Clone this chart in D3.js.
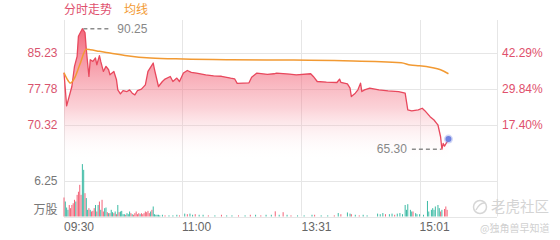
<!DOCTYPE html>
<html>
<head>
<meta charset="utf-8">
<script src="https://cdn.jsdelivr.net/npm/d3@7/dist/d3.min.js"></script>
<style>
  body { margin: 0; background: #fff; }
  svg { display: block; font-family: "Liberation Sans", Arial, "Noto Sans CJK SC", sans-serif; }
  .cjk { font-family: "Noto Sans CJK SC", sans-serif; }
</style>
</head>
<body>
<div id="chart"></div>
<script>
// minute index (0 = 09:30, HK session, 330 minutes) and price
const priceMinutes = [0, 2, 6, 8, 10, 11, 14, 16, 17, 19, 20, 22, 24, 25, 27, 28, 30, 32, 34, 35,
  38, 40, 41, 43, 45, 48, 50, 52, 54, 56, 59, 62, 64, 68, 69, 72, 75, 77, 81, 83,
  86, 88, 91, 94, 97, 101, 108, 114, 120, 127, 130, 132, 141, 143, 147, 155, 160, 162, 172, 177,
  188, 190, 193, 200, 208, 210, 211, 216, 218, 219, 222, 224, 226, 227, 229, 233, 240, 247, 255, 260,
  262, 265, 270, 273, 275, 279, 282, 284, 285, 287, 288, 289, 290, 292, 293]
const priceValues = [81.14, 74.27, 78.29, 82.45, 84.53, 88.69, 90.25, 89.46, 85.92, 80.37, 83.84, 83.49, 84.19, 82.80, 84.67, 83.49, 81.41, 82.45, 81.76, 80.72,
  81.41, 79.68, 77.60, 76.77, 77.45, 77.25, 77.60, 76.91, 76.56, 77.45, 77.75, 78.64, 81.41, 83.15, 81.76, 78.29, 79.33, 79.83, 80.37, 79.33,
  80.03, 79.33, 81.07, 81.61, 81.20, 81.07, 80.72, 80.51, 80.41, 80.03, 79.89, 78.95, 79.06, 80.20, 81.07, 80.82, 80.93, 81.07, 80.87, 80.72,
  80.93, 80.37, 79.33, 79.20, 79.12, 79.83, 79.16, 78.85, 77.95, 76.21, 76.91, 77.60, 78.99, 77.25, 77.60, 77.95, 77.60, 77.39, 77.25, 76.91,
  73.44, 73.23, 73.44, 73.79, 73.29, 72.05, 71.36, 70.67, 70.32, 67.89, 65.30, 66.51, 65.95, 66.85, 67.41]

const avgMinutes = [0, 2, 5, 8, 12, 17, 20, 27, 35, 48, 66, 91, 127, 165, 213, 257, 264, 271, 280, 287, 293]
const avgValues = [81.14, 80.03, 79.00, 80.03, 82.80, 86.00, 85.92, 85.57, 85.23, 84.67, 84.19, 83.98, 83.84, 83.78, 83.63, 83.22, 82.74, 82.59, 82.24, 81.76, 80.93]

// volume (万股): minute, amount, 1 = up / 0 = down
const volMinutes = [0, 1, 2, 3, 4, 5, 6, 7, 8, 9, 10, 11, 12, 13, 14, 15, 16, 17, 18, 19,
  20, 21, 22, 23, 24, 25, 26, 27, 28, 29, 30, 31, 32, 33, 34, 35, 36, 37, 38, 39,
  40, 41, 42, 43, 44, 45, 46, 47, 48, 49, 50, 51, 52, 53, 54, 55, 56, 57, 58, 59,
  60, 61, 62, 63, 64, 65, 66, 67, 68, 69, 70, 71, 72,
  73, 75, 77, 80, 83, 86, 88, 92, 94, 96, 98, 100, 103, 106, 110, 115, 120, 124, 128, 133,
  138, 142, 146, 150, 154, 158, 161, 164, 167, 170, 173, 178, 183, 189, 191, 196, 201, 206, 209, 211,
  216, 218, 219, 222, 225, 228, 231, 239, 241, 243, 245, 248, 250, 252, 254, 256, 258, 260, 261, 262,
  264, 265, 266, 268, 269, 271, 274, 277, 278, 280, 281, 282, 283, 285, 286, 287, 288, 290, 291, 292]
const volValues = [3.3, 2.6, 1.56, 1.16, 2.0, 1.45, 2.0, 2.3, 2.9, 2.6, 3.76, 4.3, 5.5, 3.76, 9.1, 8.1, 4.05, 3.2, 1.16, 1.45,
  1.16, 0.87, 0.98, 1.45, 2.0, 0.87, 2.0, 2.6, 1.16, 2.9, 0.87, 1.45, 1.56, 0.75, 0.58, 0.58, 1.16, 0.75, 0.58, 0.87,
  0.4, 2.0, 0.75, 0.87, 0.98, 0.4, 0.4, 0.3, 0.58, 0.4, 0.87, 0.58, 0.4, 0.3, 0.58, 0.87, 0.4, 0.58, 0.4, 0.58,
  0.4, 0.58, 0.87, 0.75, 0.98, 0.58, 0.87, 1.16, 1.74, 0.4, 0.3, 0.3, 0.3,
  0.2, 0.3, 0.2, 0.2, 0.2, 0.3, 0.2, 0.5, 0.4, 0.5, 0.3, 0.4, 0.3, 0.3, 0.2, 0.2, 0.3, 0.2, 0.2, 0.2,
  0.2, 0.3, 0.3, 0.2, 0.3, 0.3, 0.9, 0.3, 0.75, 0.3, 0.2, 0.2, 0.2, 0.3, 0.3, 0.2, 0.2, 0.2, 0.6, 0.4,
  0.7, 0.5, 0.4, 0.3, 0.2, 0.3, 0.2, 0.5, 0.4, 0.6, 0.4, 0.4, 0.5, 0.3, 0.5, 0.6, 0.4, 2.0, 1.16, 2.14,
  1.16, 0.87, 0.87, 0.58, 0.4, 0.4, 0.3, 2.7, 0.87, 1.16, 1.45, 1.16, 1.74, 2.0, 1.45, 0.87, 1.16, 1.3, 1.74, 1.16]
const volUp = [1, 0, 0, 0, 1, 1, 1, 1, 1, 0, 1, 1, 1, 1, 0, 0, 1, 0, 0, 1,
  0, 1, 1, 1, 0, 1, 0, 1, 0, 1, 1, 0, 0, 1, 0, 1, 0, 0, 1, 0,
  1, 0, 1, 0, 0, 0, 0, 1, 0, 0, 0, 1, 0, 1, 1, 1, 1, 1, 0, 1,
  1, 1, 1, 1, 1, 1, 0, 1, 0, 0, 0, 0, 0,
  0, 0, 1, 0, 0, 0, 1, 0, 1, 0, 0, 1, 0, 0, 1, 0, 1, 0, 0, 1,
  0, 1, 0, 1, 0, 0, 1, 0, 1, 0, 1, 0, 0, 0, 1, 0, 0, 1, 0, 1,
  0, 0, 1, 0, 1, 0, 0, 0, 0, 0, 1, 0, 0, 1, 0, 0, 0, 0, 0, 0,
  0, 0, 1, 0, 0, 0, 0, 0, 0, 0, 0, 0, 0, 0, 0, 1, 0, 1, 1, 1]

const timeTicks = [0, 90, 181, 271]
const timeLabels = ["09:30", "11:00", "13:31", "15:01"]
const priceTicks = [70.32, 77.78, 85.23]
const pctLabels = ["17.40%", "29.84%", "42.29%"]
const volTicks = [6.25]

const red = "#e8485d", green = "#3dbba5", orange = "#f29a33", grid = "#e6e6e6"

const svg = d3.select("#chart").append("svg")
  .attr("width", 560).attr("height", 240)

const x = d3.scaleLinear().domain([0, 330]).range([64, 497])
const y = d3.scaleLinear().domain([62.87, 92.68]).range([161, 17])
const yv = d3.scaleLinear().domain([0, 12.5]).range([216.5, 144.5])

// grid
svg.append("g").selectAll("line").data(timeTicks.concat([330])).join("line")
  .attr("x1", d => Math.round(x(d)) + 0.5).attr("x2", d => Math.round(x(d)) + 0.5)
  .attr("y1", 20).attr("y2", yv(0))
  .attr("stroke", grid)
svg.append("g").selectAll("line").data(priceTicks).join("line")
  .attr("x1", x(0)).attr("x2", x(330))
  .attr("y1", d => Math.round(y(d)) + 0.5).attr("y2", d => Math.round(y(d)) + 0.5)
  .attr("stroke", grid)
svg.append("g").selectAll("line").data(volTicks.concat([0])).join("line")
  .attr("x1", x(0)).attr("x2", x(330))
  .attr("y1", d => Math.round(yv(d)) + 0.5).attr("y2", d => Math.round(yv(d)) + 0.5)
  .attr("stroke", grid)

// price area
const price = priceMinutes.map((t, i) => ({ t: t, v: priceValues[i] }))
const avg = avgMinutes.map((t, i) => ({ t: t, v: avgValues[i] }))

const grad = svg.append("defs").append("linearGradient")
  .attr("id", "fillGrad").attr("gradientUnits", "userSpaceOnUse")
  .attr("x1", 0).attr("x2", 0).attr("y1", y(90.25)).attr("y2", 161)
grad.append("stop").attr("offset", 0).attr("stop-color", "#f04d64").attr("stop-opacity", 0.85)
grad.append("stop").attr("offset", 0.6).attr("stop-color", "#f47e8e").attr("stop-opacity", 0.35)
grad.append("stop").attr("offset", 1).attr("stop-color", "#ffffff").attr("stop-opacity", 0)

svg.append("path").datum(price)
  .attr("fill", "url(#fillGrad)")
  .attr("d", d3.area().x(d => x(d.t)).y0(161).y1(d => y(d.v)))

svg.append("path").datum(price)
  .attr("fill", "none").attr("stroke", red).attr("stroke-width", 1.3)
  .attr("stroke-linejoin", "round")
  .attr("d", d3.line().x(d => x(d.t)).y(d => y(d.v)))

svg.append("path").datum(avg)
  .attr("fill", "none").attr("stroke", orange).attr("stroke-width", 1.5)
  .attr("d", d3.line().x(d => x(d.t)).y(d => y(d.v)).curve(d3.curveMonotoneX))

// volume bars
svg.append("g").selectAll("rect").data(volMinutes).join("rect")
  .attr("x", d => x(d) - 0.5).attr("width", 1)
  .attr("y", (d, i) => yv(volValues[i])).attr("height", (d, i) => yv(0) - yv(volValues[i]))
  .attr("fill", (d, i) => volUp[i] ? "#f36479" : green)

// max / min markers
const hi = price[d3.maxIndex(price, d => d.v)]
const lo = price[d3.minIndex(price, d => d.v)]
svg.append("line").attr("x1", x(hi.t) + 1).attr("x2", x(hi.t) + 29)
  .attr("y1", y(hi.v)).attr("y2", y(hi.v))
  .attr("stroke", "#8c8c8c").attr("stroke-width", 1.5).attr("stroke-dasharray", "4,3")
svg.append("text").attr("x", x(hi.t) + 35).attr("y", y(hi.v)).attr("dy", "0.35em")
  .attr("font-size", 12).attr("fill", "#888").text(hi.v.toFixed(2))
svg.append("line").attr("x1", x(lo.t) - 30).attr("x2", x(lo.t) - 1)
  .attr("y1", y(lo.v)).attr("y2", y(lo.v))
  .attr("stroke", "#8c8c8c").attr("stroke-width", 1.5).attr("stroke-dasharray", "4,3")
svg.append("text").attr("x", x(lo.t) - 35).attr("y", y(lo.v)).attr("dy", "0.35em")
  .attr("text-anchor", "end").attr("font-size", 12).attr("fill", "#888").text(lo.v.toFixed(2))

// last point
const last = price[price.length - 1]
svg.append("circle").attr("cx", x(last.t)).attr("cy", y(last.v)).attr("r", 4.5)
  .attr("fill", "#7b8de6").attr("opacity", 0.35)
svg.append("circle").attr("cx", x(last.t)).attr("cy", y(last.v)).attr("r", 3)
  .attr("fill", "#6f82e0")

// axis labels
svg.append("g").selectAll("text").data(priceTicks).join("text")
  .attr("x", 57.5).attr("y", d => y(d)).attr("dy", "0.35em").attr("text-anchor", "end")
  .attr("font-size", 12).attr("fill", "#d9546e").text(d => d.toFixed(2))
svg.append("g").selectAll("text").data(pctLabels).join("text")
  .attr("x", 502).attr("y", (d, i) => y(priceTicks[i])).attr("dy", "0.35em")
  .attr("font-size", 12).attr("fill", "#e0506c").text(d => d)
svg.append("g").selectAll("text").data(volTicks).join("text")
  .attr("x", 57.5).attr("y", d => yv(d)).attr("dy", "0.35em").attr("text-anchor", "end")
  .attr("font-size", 12).attr("fill", "#777").text(d => d.toFixed(2))
svg.append("text").attr("class", "cjk").attr("x", 57.5).attr("y", 210).attr("dy", "0.35em")
  .attr("text-anchor", "end").attr("font-size", 12).attr("fill", "#777").text("万股")
svg.append("g").selectAll("text").data(timeTicks).join("text")
  .attr("x", d => x(d)).attr("y", 227).attr("dy", "0.35em")
  .attr("font-size", 12).attr("fill", "#666").text((d, i) => timeLabels[i])

// legend
svg.append("text").attr("class", "cjk").attr("x", 64).attr("y", 10).attr("dy", "0.35em")
  .attr("font-size", 12).attr("fill", "#e0506e").text("分时走势")
svg.append("text").attr("class", "cjk").attr("x", 124).attr("y", 10).attr("dy", "0.35em")
  .attr("font-size", 12).attr("fill", orange).text("均线")

// watermark
svg.append("circle").attr("cx", 480).attr("cy", 207).attr("r", 6.5)
  .attr("fill", "none").attr("stroke", "#d6d6d6").attr("stroke-width", 1.5)
svg.append("path").attr("d", "M476,210 Q480,202 485,203").attr("fill", "none")
  .attr("stroke", "#d6d6d6").attr("stroke-width", 1.5)
svg.append("text").attr("class", "cjk").attr("x", 491).attr("y", 207).attr("dy", "0.35em")
  .attr("font-size", 14.5).attr("fill", "#d4d4d4").text("老虎社区")
svg.append("text").attr("class", "cjk").attr("x", 480).attr("y", 228).attr("dy", "0.35em")
  .attr("font-size", 10).attr("fill", "#d0d0d0").text("@独角兽早知道")
</script>
</body>
</html>
